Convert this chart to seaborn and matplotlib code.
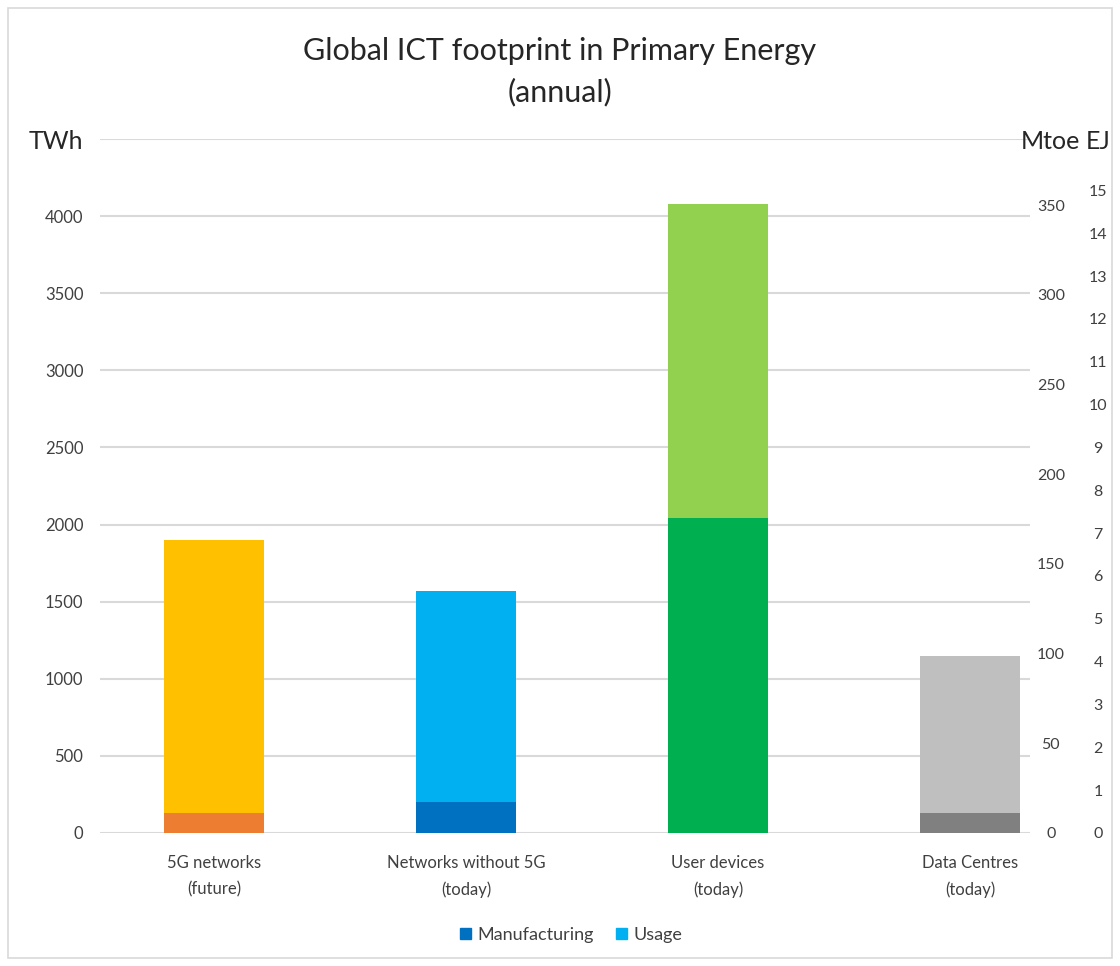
import matplotlib
matplotlib.use("Agg")
import matplotlib.pyplot as plt
import matplotlib.patches as mpatches
import seaborn as sns
import pandas as pd

# data (TWh)
categories = ["5G networks\n(future)", "Networks without 5G\n(today)",
              "User devices\n(today)", "Data Centres\n(today)"]
manufacturing = [130, 200, 2040, 130]
usage = [1770, 1370, 2040, 1020]
usage_colors = ["#FFC000", "#00B0F0", "#92D050", "#BFBFBF"]
manuf_colors = ["#ED7D31", "#0070C0", "#00B050", "#808080"]
twh_ticks = [0, 500, 1000, 1500, 2000, 2500, 3000, 3500, 4000]
mtoe_ticks = [0, 50, 100, 150, 200, 250, 300, 350]
ej_ticks = list(range(0, 16))

TWH_PER_MTOE = 11.63
TWH_PER_EJ = 277.78
YMAX = 4500

df = pd.DataFrame({"category": categories, "manufacturing": manufacturing, "usage": usage})
df["total"] = df["manufacturing"] + df["usage"]

sns.set_theme(style="white")
plt.rcParams["font.family"] = ["Lato", "DejaVu Sans"]

fig = plt.figure(figsize=(11.2, 9.66), dpi=100)
ax = fig.add_axes([0.0893, 0.1377, 0.8303, 0.7184])

sns.barplot(data=df, x="category", y="total", hue="category", palette=usage_colors,
            width=0.4, saturation=1, legend=False, ax=ax, zorder=3, linewidth=0)
sns.barplot(data=df, x="category", y="manufacturing", hue="category", palette=manuf_colors,
            width=0.4, saturation=1, legend=False, ax=ax, zorder=4, linewidth=0)

ax.set_xlim(-0.452, 3.238)
ax.set_ylim(0, YMAX)
ax.set_xlabel("")
ax.set_ylabel("")
for s in ax.spines.values():
    s.set_visible(False)
ax.set_yticks(twh_ticks + [YMAX], [str(t) for t in twh_ticks] + ["TWh"])
ax.yaxis.grid(True, color="#D9D9D9", linewidth=1.5, zorder=0)
ax.tick_params(axis="y", length=0, pad=12, labelsize=12, labelcolor="#404040")
ax.tick_params(axis="x", length=0, pad=16, labelsize=12, labelcolor="#404040")
lbls = ax.get_yticklabels()
lbls[-1].set_fontsize(18)
lbls[-1].set_color("#262626")
for t in ax.get_xticklabels():
    t.set_linespacing(1.75)

# Mtoe axis
ax2 = ax.twinx()
ax2.set_ylim(0, YMAX / TWH_PER_MTOE)
ax2.set_yticks(mtoe_ticks + [YMAX / TWH_PER_MTOE], [str(t) for t in mtoe_ticks] + ["Mtoe"])
ax2.tick_params(axis="y", length=0, pad=15, labelsize=11.5, labelcolor="#404040")
for t in ax2.get_yticklabels():
    t.set_horizontalalignment("center")
ax2.get_yticklabels()[-1].set_fontsize(18)
ax2.get_yticklabels()[-1].set_color("#262626")
for s in ax2.spines.values():
    s.set_visible(False)
ax2.grid(False)

# EJ axis
ax3 = ax.twinx()
ax3.set_ylim(0, YMAX / TWH_PER_EJ)
ax3.set_yticks(ej_ticks + [YMAX / TWH_PER_EJ], [str(t) for t in ej_ticks] + ["EJ"])
ax3.tick_params(axis="y", length=0, pad=49, labelsize=11.5, labelcolor="#404040")
for t in ax3.get_yticklabels():
    t.set_horizontalalignment("center")
ax3.get_yticklabels()[-1].set_fontsize(18)
ax3.get_yticklabels()[-1].set_color("#262626")
for s in ax3.spines.values():
    s.set_visible(False)
ax3.grid(False)

fig.suptitle("Global ICT footprint in Primary Energy\n(annual)", y=0.962,
             fontsize=22, color="#262626", linespacing=1.55)

handles = [mpatches.Patch(color="#0070C0", label="Manufacturing"),
           mpatches.Patch(color="#00B0F0", label="Usage")]
fig.legend(handles=handles, loc="center", bbox_to_anchor=(0.51, 0.032), ncol=2,
           frameon=False, fontsize=13, handlelength=0.6, handleheight=0.6,
           handletextpad=0.4, columnspacing=1.2, labelcolor="#404040")

fig.patches.append(mpatches.Rectangle((0.007, 0.008), 0.986, 0.984, transform=fig.transFigure,
                                      fill=False, edgecolor="#D9D9D9", linewidth=1.2))

fig.savefig("out.png", dpi=100)
